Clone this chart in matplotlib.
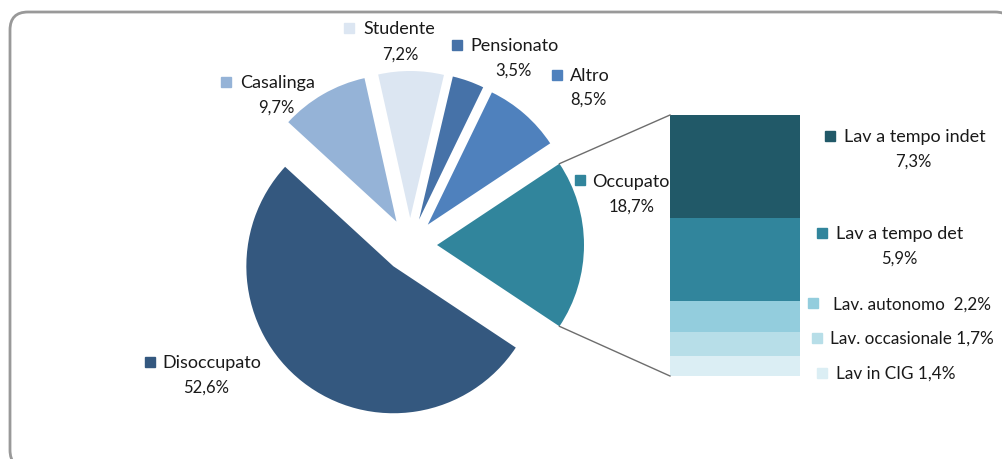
import matplotlib
matplotlib.use('Agg')
import matplotlib.pyplot as plt
from matplotlib.patches import FancyBboxPatch, Rectangle
import numpy as np

plt.rcParams['font.family'] = ['Lato', 'DejaVu Sans']

# dati: torta principale (ordine antiorario a partire da "Occupato")
main_labels = ['Occupato', 'Altro', 'Pensionato', 'Studente', 'Casalinga', 'Disoccupato']
main_values = [18.7, 8.5, 3.5, 7.2, 9.7, 52.6]
main_pct = ['18,7%', '8,5%', '3,5%', '7,2%', '9,7%', '52,6%']
main_colors = ['#31859C', '#4F81BD', '#4672A8', '#DCE6F2', '#95B3D7', '#34587F']

# dati: dettaglio occupati (dal basso verso l'alto)
sub_labels = ['Lav in CIG', 'Lav. occasionale', 'Lav. autonomo ', 'Lav a tempo det', 'Lav a tempo indet']
sub_values = [1.4, 1.7, 2.2, 5.9, 7.3]
sub_pct = ['1,4%', '1,7%', '2,2%', '5,9%', '7,3%']
sub_colors = ['#DBEEF4', '#B7DEE8', '#93CDDD', '#31859C', '#215968']

W, H = 1003, 459
def Y(y):
    return H - y

fig = plt.figure(figsize=(W / 100, H / 100), dpi=100)
ax = fig.add_axes([0, 0, 1, 1])
ax.set_xlim(0, W)
ax.set_ylim(0, H)

# cornice arrotondata
ax.add_patch(FancyBboxPatch((10, Y(468)), 1003, 456, boxstyle='round,pad=0,rounding_size=18',
                            fc='white', ec='#999999', lw=2, zorder=0))

# torta
cx, cy, r, ex = 410, Y(245), 147, 27
tot = sum(main_values)
start = -360 * main_values[0] / tot / 2
wedges, _ = ax.pie(main_values, colors=main_colors, startangle=start, counterclock=True,
                   center=(cx, cy), radius=r, explode=[ex] * len(main_values),
                   wedgeprops=dict(edgecolor='none'), frame=True)

# barra impilata
bx, bw, bbot, btop = 670, 130, Y(376), Y(115)
scale = (btop - bbot) / sum(sub_values)
bottoms = np.concatenate([[0], np.cumsum(sub_values)[:-1]])
ax.bar(bx, np.array(sub_values) * scale, bottom=bbot + bottoms * scale, width=bw,
       align='edge', color=sub_colors, edgecolor='none')

# linee di collegamento
a = np.deg2rad(abs(start))
ox = cx + ex
for sgn, yb in [(1, btop), (-1, bbot)]:
    ax.plot([ox + r * np.cos(a), bx], [cy + sgn * r * np.sin(a), yb], color='#6d6d6d', lw=1)

# etichette
txt = dict(color='#1a1a1a', fontsize=13)
pct_kw = dict(color='#1a1a1a', fontsize=12, ha='center', va='center')
main_pos = [  # quadratino, inizio testo, percentuale
    ((580, 180), (592, 182), (632, 207)),
    ((557, 75), (570, 76), (588, 100)),
    ((457, 45), (470, 46), (513, 71)),
    ((349, 28), (363, 29), (400, 55)),
    ((226, 82), (240, 83), (276, 108)),
    ((150, 362), (162, 363), (206, 388)),
]
sq = 10
for lab, p, c, (s, t, q) in zip(main_labels, main_pct, main_colors, main_pos):
    ax.add_patch(Rectangle((s[0] - sq / 2, Y(s[1]) - sq / 2), sq, sq, color=c))
    ax.text(t[0], Y(t[1]), lab, va='center', ha='left', **txt)
    ax.text(q[0], Y(q[1]), p, **pct_kw)

sub_pos = [
    ((822, 373), (836, 374), None),
    ((817, 338), (830, 339), None),
    ((813, 303), (833, 305), None),
    ((822, 233), (836, 234), (899, 259)),
    ((830, 136), (844, 137), (913, 162)),
]
for lab, p, c, (s, t, q) in zip(sub_labels, sub_pct, sub_colors, sub_pos):
    ax.add_patch(Rectangle((s[0] - sq / 2, Y(s[1]) - sq / 2), sq, sq, color=c))
    if q is None:
        # percentuale sulla stessa riga
        ax.text(t[0], Y(t[1]), lab + ' ' + p, va='center', ha='left', color='#1a1a1a', fontsize=12.3)
    else:
        ax.text(t[0], Y(t[1]), lab, va='center', ha='left', **txt)
        ax.text(q[0], Y(q[1]), p, **pct_kw)

ax.set_xlim(0, W)
ax.set_ylim(0, H)
ax.set_aspect('equal')
ax.axis('off')

fig.savefig('out.png', dpi=100)
